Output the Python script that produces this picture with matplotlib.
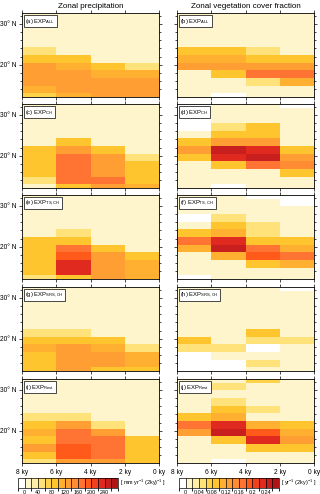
import numpy as np
import matplotlib
matplotlib.use("Agg")
import matplotlib.pyplot as plt
from matplotlib.colors import ListedColormap, BoundaryNorm

plt.rcParams['font.family'] = ['Liberation Sans', 'DejaVu Sans']
plt.rcParams['mathtext.fontset'] = 'custom'
plt.rcParams['mathtext.rm'] = 'Liberation Sans'

# latitude centres (deg N) of the model grid, south -> north
lats = [12.13, 13.99, 15.86, 17.72, 19.59, 21.45, 23.32, 25.18, 27.05, 28.91, 30.78, 32.64]
time_edges = [8, 6, 4, 2, 0]
time_labels = ["8 ky", "6 ky", "4 ky", "2 ky", "0 ky"]

# rows listed north -> south, columns 8-6, 6-4, 4-2, 2-0 ky
# precipitation change [mm yr-1 (2ky)-1]
pr_all = [
    [10, 10, 10, 10], [10, 10, 10, 10], [10, 10, 10, 10], [10, 10, 10, 10],
    [10, 10, 10, 10], [50, 10, 10, 10], [90, 90, 10, 10], [130, 110, 90, 50],
    [130, 130, 110, 110], [130, 130, 130, 130], [110, 130, 130, 130], [70, 110, 130, 130]]
pr_ch = [
    [10, 10, 10, 10], [10, 10, 10, 10], [10, 10, 10, 10], [10, 10, 10, 10],
    [10, 10, 10, 10], [10, 90, 10, 10], [90, 130, 90, 10], [90, 170, 130, 50],
    [90, 170, 130, 90], [90, 170, 130, 90], [50, 170, 170, 90], [10, 90, 130, 110]]
pr_tsch = [
    [10, 10, 10, 10], [10, 10, 10, 10], [10, 10, 10, 10], [10, 10, 10, 10],
    [10, 10, 10, 10], [10, 50, 10, 10], [90, 90, 10, 10], [90, 170, 90, 10],
    [90, 190, 130, 90], [90, 230, 130, 110], [90, 230, 130, 110], [50, 90, 130, 110]]
pr_srsch = [
    [10, 10, 10, 10], [10, 10, 10, 10], [10, 10, 10, 10], [10, 10, 10, 10],
    [10, 10, 10, 10], [10, 10, 10, 10], [50, 50, 10, 10], [90, 90, 90, 10],
    [110, 130, 110, 50], [90, 130, 130, 110], [90, 130, 130, 110], [90, 130, 90, 90]]
pr_rest = [
    [10, 10, 10, 10], [10, 10, 10, 10], [10, 10, 10, 10], [10, 10, 10, 10],
    [10, 10, 10, 10], [50, 50, 10, 10], [90, 130, 50, 10], [110, 170, 130, 10],
    [90, 170, 170, 90], [130, 190, 170, 90], [90, 190, 170, 90], [50, 130, 130, 90]]

# vegetation cover fraction change [yr-1 (2ky)-1]
vg_all = [
    [0.01, 0.01, 0.01, 0.01], [0.01, 0.01, 0.01, 0.01], [0.01, 0.01, 0.01, 0.01], [0.01, 0.01, 0.01, 0.01],
    [0.01, 0.01, 0.01, 0.01], [0.09, 0.09, 0.05, 0.01], [0.11, 0.11, 0.09, 0.09], [0.13, 0.13, 0.13, 0.13],
    [0.01, 0.09, 0.17, 0.17], [0.01, 0.01, 0.05, 0.11], [0.01, 0.01, 0.01, 0.01], [0.01, -0.01, 0.01, 0.01]]
vg_ch = [
    [-0.01, 0.01, 0.01, -0.01], [-0.01, 0.01, 0.01, 0.01], [-0.01, 0.01, 0.01, 0.01], [-0.01, 0.05, 0.09, 0.01],
    [0.01, 0.09, 0.09, 0.01], [0.09, 0.13, 0.13, 0.01], [0.13, 0.25, 0.23, 0.09], [0.09, 0.23, 0.25, 0.13],
    [0.01, 0.09, 0.17, 0.15], [0.01, 0.01, 0.01, 0.09], [0.01, 0.01, 0.01, 0.01], [0.01, -0.01, 0.01, 0.01]]
vg_tsch = [
    [0.01, 0.01, -0.01, -0.01], [0.01, 0.01, 0.01, -0.01], [0.01, 0.01, 0.01, 0.01], [-0.01, 0.05, 0.01, 0.01],
    [0.01, 0.09, 0.05, 0.01], [0.09, 0.11, 0.05, 0.01], [0.17, 0.23, 0.09, 0.09], [0.11, 0.25, 0.17, 0.11],
    [0.01, 0.11, 0.19, 0.17], [0.01, 0.01, 0.09, 0.11], [0.01, 0.01, 0.01, 0.01], [-0.01, 0.01, 0.01, 0.01]]
vg_srsch = [
    [0.01, 0.01, 0.01, -0.01], [0.01, 0.01, 0.01, 0.01], [0.01, 0.01, 0.01, 0.01], [0.01, 0.01, 0.01, 0.01],
    [0.01, 0.01, 0.01, 0.01], [0.01, 0.01, 0.01, 0.01], [0.01, 0.01, 0.09, 0.01], [0.09, 0.01, 0.05, 0.05],
    [0.05, 0.05, -0.01, 0.01], [-0.01, 0.01, 0.01, 0.01], [-0.01, -0.01, 0.05, 0.01], [-0.01, -0.01, 0.01, 0.01]]
vg_rest = [
    [0.01, 0.01, 0.07, 0.01], [0.01, 0.05, 0.01, 0.01], [0.01, 0.01, 0.01, 0.01], [0.01, 0.05, 0.01, 0.01],
    [0.01, 0.09, 0.05, 0.01], [0.09, 0.11, 0.01, 0.01], [0.17, 0.23, 0.11, 0.09], [0.13, 0.25, 0.19, 0.11],
    [0.01, 0.09, 0.23, 0.13], [0.01, 0.01, 0.09, 0.09], [0.01, 0.01, 0.01, 0.01], [0.01, -0.01, 0.01, 0.01]]

pr_panels = [("(a)", "ALL", pr_all), ("(c)", "CH", pr_ch), ("(e)", "TS,CH", pr_tsch),
             ("(g)", "SRS,CH", pr_srsch), ("(i)", "Rest", pr_rest)]
vg_panels = [("(b)", "ALL", vg_all), ("(d)", "CH", vg_ch), ("(f)", "TS,CH", vg_tsch),
             ("(h)", "SRS,CH", vg_srsch), ("(j)", "Rest", vg_rest)]

pr_levels = np.arange(-20, 300, 20)
vg_levels = np.arange(-0.02, 0.30, 0.02)
colors = ["#FFFFFF", "#FFF5CC", "#FFEDA8", "#FFE27A", "#FFD24A", "#FFC52E", "#FFB030", "#FF9E33",
          "#FF8C33", "#FF7433", "#FF5A1A", "#F0401E", "#E02A20", "#C81E1E", "#B01414"]
cmap = ListedColormap(colors)

lat = np.array(lats)
lat_edges = np.concatenate([[lat[0] - (lat[1] - lat[0]) / 2], (lat[1:] + lat[:-1]) / 2,
                            [lat[-1] + (lat[-1] - lat[-2]) / 2]])

W, H = 320, 494
fig = plt.figure(figsize=(W / 100, H / 100), dpi=100)

tops = [13, 104, 195, 287, 379]
ph = 84
cols = [(22, 137), (177, 137)]


def draw(ax, data, levels, tag, sub, ylab, xlab):
    z = np.array(data)[::-1]
    norm = BoundaryNorm(levels, cmap.N)
    ax.pcolormesh(time_edges, lat_edges, z, cmap=cmap, norm=norm, shading="flat")
    ax.set_xlim(8, 0)
    ax.set_ylim(lat[0], lat[-1])
    ax.set_xticks([8, 6, 4, 2, 0])
    ax.set_yticks([20, 30])
    ax.set_yticks(np.arange(14, 33, 2), minor=True)
    ax.tick_params(which="both", direction="out", top=True, right=True, width=0.5, labelsize=4.8, pad=1.5)
    ax.tick_params(which="major", length=2.5)
    ax.tick_params(which="minor", length=1.3)
    for s in ax.spines.values():
        s.set_linewidth(0.6)
    if ylab:
        ax.set_yticklabels(["20° N", "30° N"])
    else:
        ax.set_yticklabels([])
    if xlab:
        ax.set_xticklabels(time_labels)
    else:
        ax.set_xticklabels([])
    ax.text(0.025, 0.955, tag + " EXP$_{\\mathrm{" + sub + "}}$", transform=ax.transAxes,
            fontsize=4.2, va="top", ha="left",
            bbox=dict(boxstyle="square,pad=0.25", fc="white", ec="black", lw=0.5))


for i in range(5):
    for j, panels in enumerate([pr_panels, vg_panels]):
        x0, w = cols[j]
        ax = fig.add_axes([x0 / W, (H - tops[i] - ph) / H, w / W, ph / H])
        tag, sub, data = panels[i]
        levels = pr_levels if j == 0 else vg_levels
        draw(ax, data, levels, tag, sub, j == 0, i == 4)

fig.text((22 + 137 / 2) / W, 1 - 6 / H, "Zonal precipitation", ha="center", va="center", fontsize=5.8)
fig.text((177 + 137 / 2) / W, 1 - 6 / H, "Zonal vegetation cover fraction", ha="center", va="center", fontsize=5.8)

# colour bars
cb_specs = [(18, pr_levels, [0, 40, 80, 120, 160, 200, 240],
             ["0", "40", "80", "120", "160", "200", "240"], "[ mm yr$^{-1}$ (2ky)$^{-1}$ ]"),
            (179, vg_levels, [0, 0.04, 0.08, 0.12, 0.16, 0.2, 0.24],
             ["0", "0.04", "0.08", "0.12", "0.16", "0.2", "0.24"], "[ yr$^{-1}$ (2ky)$^{-1}$ ]")]
for x0, levels, ticks, tlabels, unit in cb_specs:
    cax = fig.add_axes([x0 / W, (H - 488) / H, 100 / W, 10 / H])
    norm = BoundaryNorm(levels, cmap.N)
    sm = plt.cm.ScalarMappable(norm=norm, cmap=cmap)
    cb = fig.colorbar(sm, cax=cax, orientation="horizontal", drawedges=True, spacing="uniform")
    cb.outline.set_linewidth(0.5)
    cb.dividers.set_linewidth(0.5)
    cb.set_ticks(ticks)
    cb.set_ticklabels(tlabels)
    cax.tick_params(length=0, labelsize=3.9, pad=1.2)
    fig.text((x0 + 102) / W, 1 - 483 / H, unit, ha="left", va="center", fontsize=4.0)

fig.savefig("out.png", dpi=100)
